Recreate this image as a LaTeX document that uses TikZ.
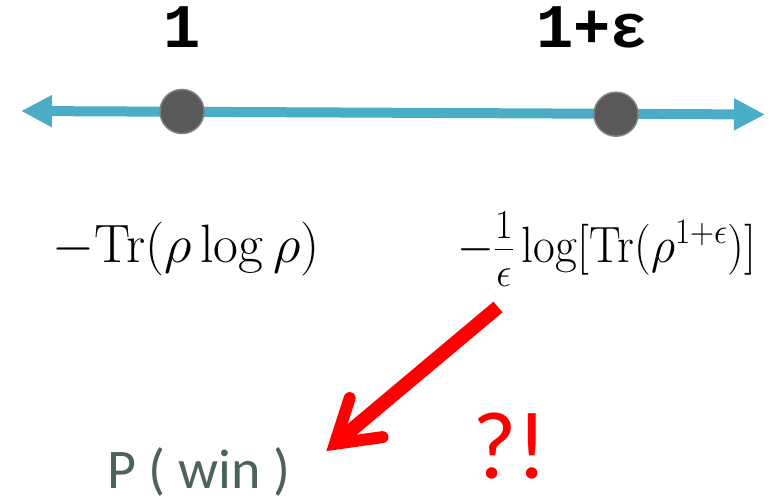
\RequirePackage{fix-cm}
\documentclass[tikz,border=0pt]{standalone}
\usepackage[no-math]{fontspec}
\usetikzlibrary{arrows.meta}
\newfontfamily\calib{Carlito}
\newfontfamily\monob{Liberation Mono}
\definecolor{tealline}{HTML}{4BACC6}
\definecolor{dotfill}{HTML}{595959}
\definecolor{dotedge}{HTML}{7F7F7F}
\definecolor{wingreen}{HTML}{4B6457}
\definecolor{arrred}{HTML}{FF0000}
\tikzset{
  numlbl/.style={inner sep=0pt, anchor=base, font=\monob\bfseries\fontsize{62}{66}\selectfont},
  dotnode/.style={circle, minimum size=44pt, inner sep=0pt, fill=dotfill, draw=dotedge, line width=1.5pt},
  mathlbl/.style={inner sep=0pt, anchor=base west},
  winlbl/.style={inner sep=0pt, anchor=base west, text=wingreen, font=\calib\fontsize{56}{60}\selectfont},
  exclbl/.style={inner sep=0pt, anchor=base west, text=arrred, font=\calib\fontsize{96}{110}\selectfont},
  axisline/.style={draw=tealline, line width=10pt, {Triangle[length=31pt,width=30pt]}-{Triangle[length=31pt,width=30pt]}},
}
\begin{document}
\begin{tikzpicture}[x=1pt,y=-1pt]
\useasboundingbox (0,0) rectangle (780,498);
% number line
\coordinate (L) at (21,111);
\coordinate (R) at (765,114.5);
\draw[axisline] (L) -- (R);
\node[dotnode] (p1) at (182,111.5) {};
\node[dotnode] (p2) at (616,114.2) {};
% labels above
\node[numlbl] (one) at (182,47) {1};
\node[numlbl] (onee) at (592,47.5) {1+ε};
% formulas
\node[mathlbl, font=\fontsize{54}{60}\selectfont] (f1) at (52,262)
  {$-\mathrm{Tr}(\rho\log\rho)$};
\node[mathlbl, font=\fontsize{51}{58}\selectfont] (f2) at (457,262)
  {\scalebox{0.93}[1]{$-\frac{\raisebox{3pt}{\scalebox{1.15}{$\scriptstyle 1$}}}{\raisebox{-7pt}{\scalebox{1.15}{$\scriptstyle\epsilon$}}}\log[\mathrm{Tr}(\rho^{1+\epsilon})]$}};
% bottom texts
\node[winlbl] (win) at (107,488) {P ( win )};
\node[exclbl] (ex) at (472,478) {?!};
% red arrow
\coordinate (S) at (498,307);
\coordinate (Tp) at (334.95,443.8);
\coordinate (C1) at (349.7,398.1);
\coordinate (C2) at (382.5,437.1);
\draw[arrred, line width=14pt] (S) -- (Tp);
\draw[arrred, line width=12pt, line cap=round, line join=miter] (C1) -- (Tp) -- (C2);
\end{tikzpicture}
\end{document}
